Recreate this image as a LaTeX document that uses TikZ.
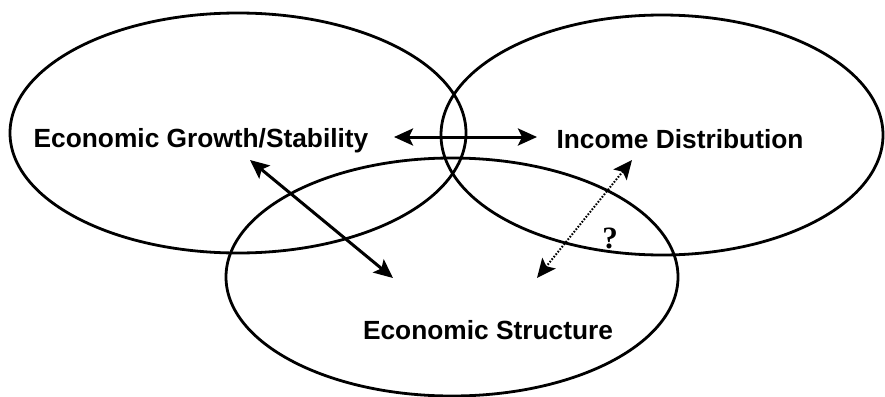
\documentclass[tikz,border=0pt]{standalone}
\usepackage{fontspec}
\setmainfont{Liberation Sans}
\newfontfamily\qfont{Liberation Serif}
\usetikzlibrary{arrows.meta}
\begin{document}
\begin{tikzpicture}[x=1pt,y=-1pt,
  ring/.style={draw=black,line width=2.8pt},
  lbl/.style={font=\fontsize{26.3}{30}\selectfont\bfseries,anchor=base,inner sep=0pt},
  tip/.style={Stealth[length=19pt,width=17pt,inset=4pt]},
  link/.style={line width=3pt,{Stealth[length=19pt,width=17pt,inset=4pt]}-{Stealth[length=19pt,width=17pt,inset=4pt]}},
  doubt/.style={line width=2pt,dash pattern=on 1.6pt off 1.6pt,{Stealth[length=19pt,width=17pt,inset=4pt]}-{Stealth[length=19pt,width=17pt,inset=4pt]}}]
\useasboundingbox (0,0) rectangle (885,396);
\fill[white] (0,0) rectangle (885,396);
% ellipses
\draw[ring] (238,133) ellipse [x radius=228pt, y radius=120pt];
\draw[ring] (662,135) ellipse [x radius=221pt, y radius=120pt];
\draw[ring] (452,277) ellipse [x radius=226pt, y radius=119pt];
% labels
\node[lbl] (egs) at (201,147) {Economic Growth/Stability};
\node[lbl] (inc) at (680,148) {Income Distribution};
\node[lbl] (es) at (488,339) {Economic Structure};
\node[font=\qfont\fontsize{31}{32}\selectfont\bfseries,anchor=base,inner sep=0pt] (q) at (610,248) {?};
% arrow ends
\coordinate (h1) at (394,137);
\coordinate (h2) at (537,137);
\coordinate (d1) at (250,160);
\coordinate (d2) at (393,278);
\coordinate (t1) at (632,160);
\coordinate (t2) at (537,278);
\draw[link] (h1) -- (h2);
\draw[link] (d1) -- (d2);
\draw[doubt] (t1) -- (t2);
\end{tikzpicture}
\end{document}
